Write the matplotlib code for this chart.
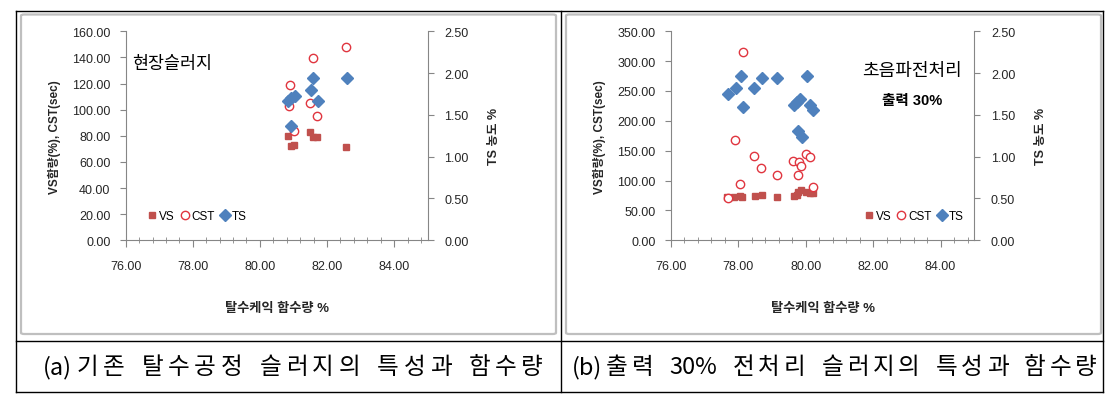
import matplotlib
matplotlib.use("Agg")
import matplotlib.pyplot as plt
from matplotlib.ticker import MultipleLocator, FormatStrFormatter
from matplotlib.lines import Line2D
from matplotlib.patches import FancyBboxPatch

plt.rcParams['font.family'] = ['Liberation Sans', 'Noto Sans CJK KR']
plt.rcParams['axes.unicode_minus'] = False

# (a) 현장슬러지
a_vs_x = [80.84, 80.94, 81.02, 81.50, 81.59, 81.69, 82.56]
a_vs_y = [79.6, 72.0, 73.2, 83.2, 78.9, 78.9, 71.4]
a_cst_x = [82.58, 81.59, 80.91, 80.87, 81.50, 81.69, 81.02]
a_cst_y = [148.3, 139.3, 119.2, 102.6, 105.4, 95.4, 84.0]
a_ts_x = [82.59, 81.59, 81.52, 81.72, 80.84, 80.94, 81.04, 80.93]
a_ts_y = [1.946, 1.946, 1.80, 1.667, 1.667, 1.70, 1.72, 1.37]

# (b) 초음파 전처리 출력 30%
b_vs_x = [77.67, 77.87, 78.05, 78.12, 78.49, 78.69, 79.14, 79.64, 79.73,
          79.77, 79.87, 80.00, 80.12, 80.20]
b_vs_y = [72.5, 72.6, 73.7, 72.5, 74.8, 75.9, 72.6, 74.8, 75.5,
          81.5, 83.7, 80.4, 79.3, 79.3]
b_cst_x = [78.13, 77.90, 78.05, 77.68, 78.46, 78.68, 79.14, 79.63, 79.77,
           79.80, 79.87, 80.00, 80.12, 80.20]
b_cst_y = [314.8, 168.0, 94.3, 70.3, 141.8, 120.6, 109.4, 133.4, 110.0,
           130.6, 125.0, 144.0, 140.0, 88.8]
b_ts_x = [77.69, 77.92, 78.08, 78.13, 78.47, 78.69, 79.16, 79.64, 79.73,
          79.83, 79.78, 79.88, 80.04, 80.14, 80.22]
b_ts_y = [1.75, 1.82, 1.96, 1.60, 1.82, 1.946, 1.946, 1.62, 1.66,
          1.69, 1.31, 1.24, 1.96, 1.62, 1.56]

series_names = ['VS', 'CST', 'TS']
x_label = '탈수케익 함수량 %'
y_label = 'VS함량(%), CST(sec)'
y2_label = 'TS 농도 %'
captions = ['(a)기존 탈수공정 슬러지의 특성과 함수량',
            '(b)출력 30% 전처리 슬러지의 특성과 함수량']

RED = '#C0504D'
CRED = '#E0353F'
BLUE = '#4F81BD'
GRAY = '#868686'
TXT = '#262626'

fig = plt.figure(figsize=(11.14, 4.02), dpi=100)
W, H = 1114.0, 402.0


def fx(px):
    return px / W


def fy(py):
    return 1 - py / H


def make_panel(rect, vs_x, vs_y, cst_x, cst_y, ts_x, ts_y, ymax, ystep, leg_x):
    ax = fig.add_axes(rect)
    ax.plot(vs_x, vs_y, 's', color=RED, markersize=5, label=series_names[0])
    ax.plot(cst_x, cst_y, 'o', mfc='white', mec=CRED, mew=1.0,
            markersize=6, label=series_names[1])
    ax2 = ax.twinx()
    ax2.plot(ts_x, ts_y, 'D', color=BLUE, markersize=6.5, label=series_names[2])

    ax.set_xlim(76, 85)
    ax.set_ylim(0, ymax)
    ax2.set_ylim(0, 2.5)
    ax.xaxis.set_major_locator(MultipleLocator(2))
    ax.xaxis.set_minor_locator(MultipleLocator(0.4))
    ax.yaxis.set_major_locator(MultipleLocator(ystep))
    ax2.yaxis.set_major_locator(MultipleLocator(0.5))
    for a in (ax, ax2):
        a.yaxis.set_major_formatter(FormatStrFormatter('%.2f'))
    ax.xaxis.set_major_formatter(FormatStrFormatter('%.2f'))

    for s in ('top', 'right'):
        ax.spines[s].set_visible(False)
    for s in ('top', 'left', 'bottom'):
        ax2.spines[s].set_visible(False)
    for s in ('left', 'bottom'):
        ax.spines[s].set_color(GRAY)
    ax2.spines['right'].set_color(GRAY)

    ax.tick_params(axis='x', which='major', direction='out', length=5,
                   color=GRAY, labelsize=9, labelcolor=TXT, pad=9)
    ax.tick_params(axis='x', which='minor', direction='inout', length=4,
                   color=GRAY)
    ax.tick_params(axis='y', direction='out', length=4, color=GRAY,
                   labelsize=9, labelcolor=TXT, pad=7)
    ax2.tick_params(axis='y', direction='out', length=4, color=GRAY,
                    labelsize=9, labelcolor=TXT, pad=8)

    ax.set_xlabel(x_label, fontsize=9.5, fontweight='bold', color=TXT,
                  labelpad=22)
    ax.set_ylabel(y_label, fontsize=8.5, fontweight='bold', color=TXT,
                  labelpad=8)
    ax2.set_ylabel(y2_label, fontsize=9, fontweight='bold', color=TXT,
                   rotation=90, labelpad=14)

    h1, l1 = ax.get_legend_handles_labels()
    h2, l2 = ax2.get_legend_handles_labels()
    ax2.legend(h1 + h2, l1 + l2, loc='center left',
               bbox_to_anchor=(leg_x, 0.116), ncol=3, frameon=False,
               fontsize=8.5, handlelength=0.6, handletextpad=0.3,
               columnspacing=0.55, borderpad=0, borderaxespad=0)
    return ax, ax2


axA, axA2 = make_panel([0.1128, 0.3998, 0.2711, 0.5199],
                       a_vs_x, a_vs_y, a_cst_x, a_cst_y, a_ts_x, a_ts_y,
                       160, 20, 0.075)
axA.text(0.02, 0.85, '현장슬러지', transform=axA.transAxes, fontsize=12.5,
         color='black', ha='left', va='center')

axB, axB2 = make_panel([0.6023, 0.3998, 0.2723, 0.5199],
                       b_vs_x, b_vs_y, b_cst_x, b_cst_y, b_ts_x, b_ts_y,
                       350, 50, 0.64)
axB.text(0.795, 0.81, '초음파전처리', transform=axB.transAxes, fontsize=13,
         color='black', ha='center', va='center')
axB.text(0.795, 0.67, '출력 30%', transform=axB.transAxes, fontsize=10.5,
         fontweight='bold', color='black', ha='center', va='center')

# 회색 차트 영역 테두리
for x0, x1 in ((21, 556), (566, 1101)):
    fig.add_artist(FancyBboxPatch((fx(x0), fy(335)), fx(x1 - x0),
                                  (335 - 15.5) / H,
                                  boxstyle='round,pad=0,rounding_size=0.003',
                                  transform=fig.transFigure, fill=False,
                                  edgecolor='#BFBFBF', linewidth=1.6))

# 표 테두리
lines = [((16, 1103), (12, 12)), ((16, 1103), (342, 342)),
         ((16, 1103), (392.7, 392.7)), ((16, 16), (12, 392.7)),
         ((561, 561), (12, 392.7)), ((1103, 1103), (12, 392.7))]
for xs, ys in lines:
    fig.add_artist(Line2D([fx(xs[0]), fx(xs[1])], [fy(ys[0]), fy(ys[1])],
                          transform=fig.transFigure, color='black',
                          linewidth=1.0))

# 캡션: 자간을 조금 넓혀 원본 폭에 맞춘다 (영문/숫자는 한 덩어리로)
renderer = fig.canvas.get_renderer()


def split_tokens(s):
    tokens = []
    for ch in s:
        if tokens and ch.isascii() and ch != ' ' and tokens[-1][-1].isascii() \
                and tokens[-1][-1] != ' ':
            tokens[-1] += ch
        else:
            tokens.append(ch)
    return tokens


def spaced_text(s, x0, x1, base, size):
    tokens = split_tokens(s)
    widths = []
    for tk in tokens:
        if tk == ' ':
            widths.append(size * 0.35 * 100 / 72)
            continue
        t = fig.text(0, 0, tk, fontsize=size, family=['Noto Sans CJK KR'])
        widths.append(t.get_window_extent(renderer).width)
        t.remove()
    extra = max(0.0, ((x1 - x0) - sum(widths)) / (len(tokens) - 1))
    x = x0
    for tk, w in zip(tokens, widths):
        if tk != ' ':
            fig.text(fx(x), fy(base), tk, fontsize=size, ha='left',
                     va='baseline', family=['Noto Sans CJK KR'])
        x += w + extra


spaced_text(captions[0], 43, 543, 374, 17)
spaced_text(captions[1], 572, 1097, 374, 17)

fig.savefig('out.png', dpi=100)
